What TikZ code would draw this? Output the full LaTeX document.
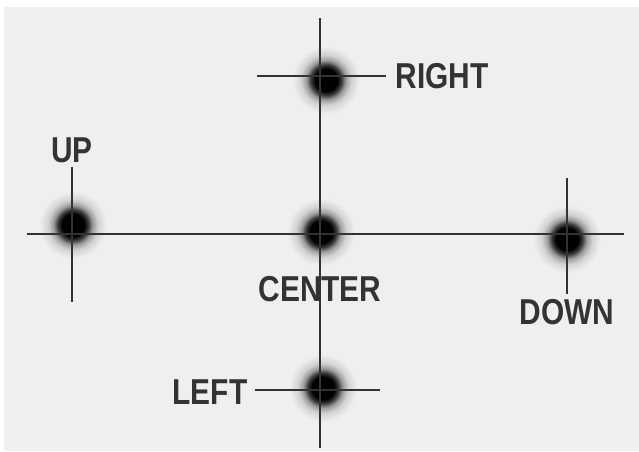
\documentclass[tikz,border=0pt]{standalone}
\usepackage{fontspec}
\newfontfamily\labelfont{Liberation Sans}
\definecolor{bggray}{HTML}{EFEFEF}
\definecolor{inkgray}{HTML}{333333}
\pgfdeclareradialshading{blob}{\pgfpoint{0bp}{0bp}}{%
  color(0bp)=(black); color(8bp)=(black); color(11bp)=(black!75!bggray);
  color(14bp)=(black!35!bggray); color(18bp)=(black!12!bggray);
  color(24bp)=(bggray); color(50bp)=(bggray)}
\tikzset{
  spot/.style={circle, minimum size=70pt, inner sep=0pt, shading=blob},
  axis/.style={draw=inkgray, line width=1.8pt},
  tag/.style={font=\labelfont\bfseries\fontsize{36}{36}\selectfont,
              text=inkgray, inner sep=0pt, xscale=0.83},
}
\begin{document}
\begin{tikzpicture}[x=1pt, y=-1pt]
    % frame
    \fill[white] (0,0) rectangle (639,451);
    \fill[bggray] (4,7) rectangle (639,451);
    \useasboundingbox (0,0) rectangle (639,451);
    % spots
    \node[spot] (sright) at (326,80) {};
    \node[spot] (sup) at (73,225) {};
    \node[spot] (scenter) at (321,232) {};
    \node[spot] (sdown) at (567,239) {};
    \node[spot] (sleft) at (323,388) {};
    % line ends
    \coordinate (hw) at (27,234);
    \coordinate (he) at (624,234);
    \coordinate (vn) at (320,18);
    \coordinate (vs) at (320,448);
    \coordinate (rw) at (257,76);
    \coordinate (re) at (386,76);
    \coordinate (un) at (72,167);
    \coordinate (us) at (72,302);
    \coordinate (dn) at (567,178);
    \coordinate (ds) at (567,294);
    \coordinate (lw) at (255,390);
    \coordinate (le) at (380,390);
    \draw[axis] (hw) -- (he);
    \draw[axis] (vn) -- (vs);
    \draw[axis] (rw) -- (re);
    \draw[axis] (un) -- (us);
    \draw[axis] (dn) -- (ds);
    \draw[axis] (lw) -- (le);
    % labels
    \node[tag] (tright) at (442,76) {RIGHT};
    \node[tag] (tup) at (72,150) {UP};
    \node[tag] (tcenter) at (320,289) {CENTER};
    \node[tag] (tdown) at (567,312) {DOWN};
    \node[tag] (tleft) at (210,392) {LEFT};
\end{tikzpicture}
\end{document}
